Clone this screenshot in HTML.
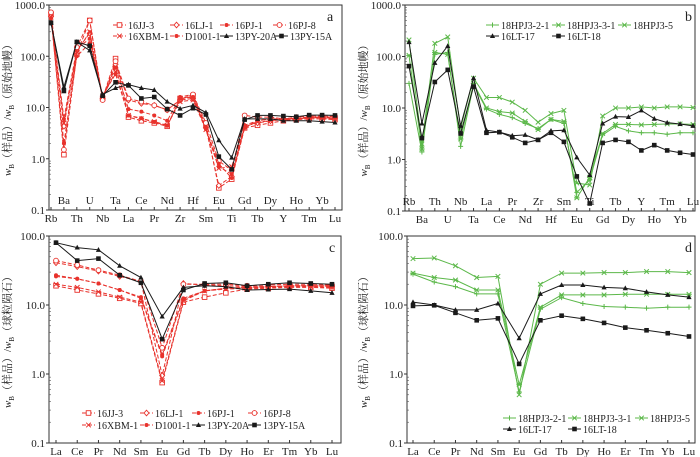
<!DOCTYPE html>
<html><head><meta charset="utf-8">
<style>
html,body{margin:0;padding:0;background:#fff;}
svg{display:block;font-family:"Liberation Serif","Noto Serif CJK SC",serif;}
</style></head>
<body>
<svg id="fig" width="700" height="457" viewBox="0 0 700 457" xmlns="http://www.w3.org/2000/svg"></svg>
<script>
// ---- data ----
const elemsTrace = ["Rb","Ba","Th","U","Nb","Ta","La","Ce","Pr","Nd","Zr","Hf","Sm","Eu","Ti","Gd","Tb","Dy","Y","Ho","Tm","Yb","Lu"];
const elemsREE = ["La","Ce","Pr","Nd","Sm","Eu","Gd","Tb","Dy","Ho","Er","Tm","Yb","Lu"];
const namesRed = ["16JJ-3","16LJ-1","16PJ-1","16PJ-8","16XBM-1","D1001-1"];
const namesBlackA = ["13PY-20A","13PY-15A"];
const namesGreen = ["18HPJ3-2-1","18HPJ3-3-1","18HPJ3-5"];
const namesBlackB = ["16LT-17","16LT-18"];

const a_16JJ3  = [650,1.2,110,500,15,90,6.5,5.5,5,4.3,15,17,4.5,0.27,0.4,4,4.5,5,5.5,5.8,6,6,5.8];
const a_16LJ1  = [600,4.3,130,280,15,70,14,12,11,9,14,15,4,0.3,0.45,4.3,5,5.5,6,6,6.3,6.3,6.2];
const a_16PJ1  = [700,6,140,220,16,60,9.3,8.3,7,5.5,16,18,4,0.7,0.5,4.5,5.5,6,6,6.2,6.5,6.5,6.5];
const a_16PJ8  = [720,1.5,150,500,14,80,15,13,11,9,14,18,5,0.9,0.6,7,6.5,6.5,6,6.5,6.8,6.8,6.7];
const a_16XBM1 = [580,5,120,300,16,50,7,6,5.3,4.5,13,14,3.7,0.65,0.7,4.2,5.2,5.5,5.8,6,6.3,6.3,6];
const a_D10011 = [550,2,100,180,17,45,7,6.2,5.2,4.4,15,16,3.8,0.8,0.42,4,5.5,6,5.8,6,6.5,6.5,6.5];
const a_13PY20A = [450,25,190,130,18,24,28,24,22,13,9.5,11,8,2.3,1.05,6,6,6,5.5,5.5,5.5,5.3,5.1];
const a_13PY15A = [450,21,190,160,17,31,27,15,16,9.3,7,9.7,7.3,1.1,0.62,5.8,7,7,6.8,6.6,7.1,7.1,7];

const b_HPJ321 = [30,1.4,110,120,1.8,28,9.5,7.5,6.5,5,4,6,5,0.23,0.4,3,4.4,3.6,3.3,3.3,3.1,3.3,3.3];
const b_HPJ331 = [105,1.6,120,110,2.5,30,10,8.5,8,5.5,3.8,6,5.5,0.18,0.45,3.2,4.8,4.8,4.7,4.8,4.9,4.9,4.8];
const b_HPJ35  = [210,2,180,240,4,38,16,16,13,9,5.3,7.8,9,0.35,0.32,7,10,10,10.5,10,10.5,10.5,10.2];
const b_LT17   = [190,5,75,160,4.5,38,3.7,3.4,2.9,3,2.4,3.6,3.7,1.1,0.5,5,6.8,6.7,9,6.2,5.2,4.9,4.5];
const b_LT18   = [65,2.6,32,55,3.2,26,3.3,3.4,2.7,2.1,2.4,3.3,2.2,0.47,0.14,2.1,2.4,2.2,1.5,1.9,1.5,1.35,1.25];

const c_16JJ3  = [19,16.5,14.5,12.5,10.5,0.75,11,13,15,17,17.5,18,18,17.5];
const c_16LJ1  = [41,36,31,26,22,0.95,20.5,19.5,19,18.5,18.5,19,19,18.5];
const c_16PJ1  = [27,24,20.5,16.5,13,1.9,12.5,16,17.5,18,18.5,19,19,19];
const c_16PJ8  = [44,38,32,27,22,2.4,20,20,20,19,19.5,20,20,19.5];
const c_16XBM1 = [20,18,15.5,13,11,0.8,11.5,16,17,17.5,18,18.5,18.5,18];
const c_D10011 = [26,24,20.5,16.5,12.5,1.8,12,16,17.5,18,18.5,19,19,19];
const c_13PY20A = [80,68,63,37,25,6.8,18,19,18.5,16.5,16.8,17,16,15];
const c_13PY15A = [80,44,47,27,21,3.2,16.5,20.5,21,19,20,21,20.5,20];

const d_HPJ321 = [28,21.5,18.5,14.5,14.5,0.55,8.7,12.8,10.5,9.5,9.3,9,9.3,9.3];
const d_HPJ331 = [29,25,23,16.5,16.5,0.7,9.3,14,14,14,14.3,14.3,14.3,14.3];
const d_HPJ35  = [47,48,37,25,26,0.5,20,29,29,29.5,29.5,30.5,30.5,29.5];
const d_LT17   = [11,10,8.5,8.5,10.5,3.3,14.5,19.5,19.5,18,17.5,15.5,14,13];
const d_LT18   = [9.7,9.9,7.7,6,6.4,1.4,6,7,6.3,5.5,4.7,4.3,3.9,3.5];

const ticksA = ["1000.0","100.0","10.0","1.0","0.1"];
const ticksC = ["100.0","10.0","1.0","0.1"];

// ---- drawing ----
const NS="http://www.w3.org/2000/svg";
const svg=document.getElementById('fig');
function mk(tag,attrs,parent){const e=document.createElementNS(NS,tag);for(const k in attrs)e.setAttribute(k,attrs[k]);(parent||svg).appendChild(e);return e;}
const RED="#e8322c", GREEN="#5cb84a", BLACK="#1a1a1a";

function marker(g,type,x,y,col){
  let m;
  const s=2.3;
  if(type==="sq"){m=mk('rect',{x:x-s,y:y-s,width:2*s,height:2*s,fill:col},g);}
  else if(type==="sqo"){m=mk('rect',{x:x-s,y:y-s,width:2*s,height:2*s,fill:"#fff",stroke:col,'stroke-width':0.9},g);}
  else if(type==="tri"){m=mk('path',{d:`M${x},${y-2.8}L${x+2.6},${y+2}L${x-2.6},${y+2}Z`,fill:col},g);}
  else if(type==="dia"){m=mk('path',{d:`M${x},${y-2.8}L${x+2.5},${y}L${x},${y+2.8}L${x-2.5},${y}Z`,fill:"#fff",stroke:col,'stroke-width':0.9},g);}
  else if(type==="dot"){m=mk('circle',{cx:x,cy:y,r:2,fill:col},g);}
  else if(type==="cir"){m=mk('circle',{cx:x,cy:y,r:2.4,fill:"#fff",stroke:col,'stroke-width':0.9},g);}
  else if(type==="x"){m=mk('path',{d:`M${x-2.3},${y-2.3}L${x+2.3},${y+2.3}M${x-2.3},${y+2.3}L${x+2.3},${y-2.3}`,stroke:col,'stroke-width':1,fill:"none"},g);}
  else if(type==="plus"){m=mk('path',{d:`M${x-2.5},${y}L${x+2.5},${y}M${x},${y-2.5}L${x},${y+2.5}`,stroke:col,'stroke-width':1,fill:"none"},g);}
  else {m=mk('path',{d:`M${x-2.3},${y-2.3}L${x+2.3},${y+2.3}M${x-2.3},${y+2.3}L${x+2.3},${y-2.3}M${x-2.8},${y}L${x+2.8},${y}`,stroke:col,'stroke-width':1,fill:"none"},g);}
  
  
}

function panel(cfg){
  const g=mk('g',{});
  
  
  const {x0,x1,yTop,yBot,decTop,decBot,cats,p0,p1}=cfg;
  const nDec=decTop-decBot;
  const yS=v=>yBot-(Math.log10(v)-decBot)/nDec*(yBot-yTop);
  const xS=i=>p0+i*(p1-p0)/(cats.length-1);
  const frame=mk('rect',{x:x0,y:yTop,width:x1-x0,height:yBot-yTop,fill:"none",stroke:"#333",'stroke-width':1},g);
  
  
  cfg.ticks.forEach((t,i)=>{
    const y=yS(Math.pow(10,decTop-i));
    mk('line',{x1:x0-3,x2:x0,y1:y,y2:y,stroke:"#333"},g);
    const tx=mk('text',{x:x0-4,y:y+4,'text-anchor':'end','font-size':11,fill:"#222"},g);
    tx.textContent=t;
    
    
    if(i<cfg.ticks.length-1){
      for(let k=2;k<10;k++){const ym=yS(Math.pow(10,decTop-i-1)*k);mk('line',{x1:x0,x2:x0+2,y1:ym,y2:ym,stroke:"#555",'stroke-width':0.6},g);}
    }
  });
  cats.forEach((c,i)=>{
    const x=xS(i);
    mk('line',{x1:x,x2:x,y1:yBot,y2:yBot-3,stroke:"#333"},g);
    let ly;
    if(cfg.alt){ const inside=(i%2===cfg.insideParity); ly=inside?yBot-6:yBot+12; }
    else ly=yBot+12;
    const tx=mk('text',{x:x,y:ly,'text-anchor':'middle','font-size':11,fill:"#222"},g);
    tx.textContent=c;
    
    
  });
  const yt=mk('text',{transform:`translate(${cfg.ytx},${(yTop+yBot)/2}) rotate(-90)`,'text-anchor':'middle','font-size':11,fill:"#222"},g);
  
  
  yt.innerHTML=`<tspan font-style="italic">w</tspan><tspan font-size="7" dy="3">B</tspan><tspan dy="-3">（样品）/</tspan><tspan font-style="italic">w</tspan><tspan font-size="7" dy="3">B</tspan><tspan dy="-3">（${cfg.norm}）</tspan>`;
  const lt=mk('text',{x:cfg.letterX,y:yTop+16,'font-size':14,fill:"#222"},g);
  lt.textContent=cfg.letter;
  
  
  cfg.series.forEach(s=>{
    const sg=mk('g',{},g);
    
    
    const pts=s.vals.map((v,i)=>`${xS(i).toFixed(1)},${yS(v).toFixed(1)}`).join(' ');
    const pl=mk('polyline',{points:pts,fill:"none",stroke:s.col,'stroke-width':1,'stroke-dasharray':s.dash?"4,2":"none"},sg);
    
    
    s.vals.forEach((v,i)=>marker(sg,s.m,xS(i),yS(v),s.col));
  });
  cfg.series.forEach((s,i)=>{
    const pos=cfg.legend[i];
    const lg=mk('g',{},g);
    
    
    mk('line',{x1:pos[0]-15,x2:pos[0]-2,y1:pos[1]-4,y2:pos[1]-4,stroke:s.col,'stroke-width':1,'stroke-dasharray':s.dash?"4,2":"none"},lg);
    marker(lg,s.m,pos[0]-8.5,pos[1]-4,s.col);
    const tx=mk('text',{x:pos[0],y:pos[1],'font-size':10,fill:"#222"},lg);
    tx.textContent=s.name;
  });
}

const redM=["sqo","dia","dot","cir","x","dot"];
const redA=[a_16JJ3,a_16LJ1,a_16PJ1,a_16PJ8,a_16XBM1,a_D10011];
const redC=[c_16JJ3,c_16LJ1,c_16PJ1,c_16PJ8,c_16XBM1,c_D10011];
const sA=namesRed.map((n,i)=>({name:n,vals:redA[i],col:RED,dash:true,m:redM[i]}))
  .concat([{name:namesBlackA[0],vals:a_13PY20A,col:BLACK,m:"tri"},{name:namesBlackA[1],vals:a_13PY15A,col:BLACK,m:"sq"}]);
const sC=namesRed.map((n,i)=>({name:n,vals:redC[i],col:RED,dash:true,m:redM[i]}))
  .concat([{name:namesBlackA[0],vals:c_13PY20A,col:BLACK,m:"tri"},{name:namesBlackA[1],vals:c_13PY15A,col:BLACK,m:"sq"}]);
const sB=[{name:namesGreen[0],vals:b_HPJ321,col:GREEN,m:"plus"},{name:namesGreen[1],vals:b_HPJ331,col:GREEN,m:"star"},{name:namesGreen[2],vals:b_HPJ35,col:GREEN,m:"x"},
  {name:namesBlackB[0],vals:b_LT17,col:BLACK,m:"tri"},{name:namesBlackB[1],vals:b_LT18,col:BLACK,m:"sq"}];
const sD=[{name:namesGreen[0],vals:d_HPJ321,col:GREEN,m:"plus"},{name:namesGreen[1],vals:d_HPJ331,col:GREEN,m:"star"},{name:namesGreen[2],vals:d_HPJ35,col:GREEN,m:"x"},
  {name:namesBlackB[0],vals:d_LT17,col:BLACK,m:"tri"},{name:namesBlackB[1],vals:d_LT18,col:BLACK,m:"sq"}];

panel({letter:"a",x0:49,x1:342,yTop:5,yBot:210,decTop:3,decBot:-1,cats:elemsTrace,p0:51,p1:335,alt:true,insideParity:1,
  ticks:ticksA,ytx:11,norm:"原始地幔",letterX:327,series:sA,
  legend:[[128,29],[185,29],[235,29],[288,29],[128,40],[185,40],[235,40],[290,40]]});
panel({letter:"b",x0:405,x1:695,yTop:5,yBot:211,decTop:3,decBot:-1,cats:elemsTrace,p0:409,p1:693,alt:true,insideParity:0,
  ticks:ticksA,ytx:367,norm:"原始地幔",letterX:685,series:sB,
  legend:[[501,29],[567,29],[633,29],[501,40],[567,40]]});
panel({letter:"c",x0:49,x1:341,yTop:236,yBot:443,decTop:2,decBot:-1,cats:elemsREE,p0:56,p1:332,alt:false,
  ticks:ticksC,ytx:11,norm:"球粒陨石",letterX:329,series:sC,
  legend:[[97,417],[155,417],[207,417],[263,417],[97,429],[155,429],[207,429],[263,429]]});
panel({letter:"d",x0:407,x1:695,yTop:236,yBot:443,decTop:2,decBot:-1,cats:elemsREE,p0:413,p1:689,alt:false,
  ticks:ticksC,ytx:367,norm:"球粒陨石",letterX:685,series:sD,
  legend:[[518,422],[583,422],[650,422],[518,433],[583,433]]});
</script>
</body></html>
